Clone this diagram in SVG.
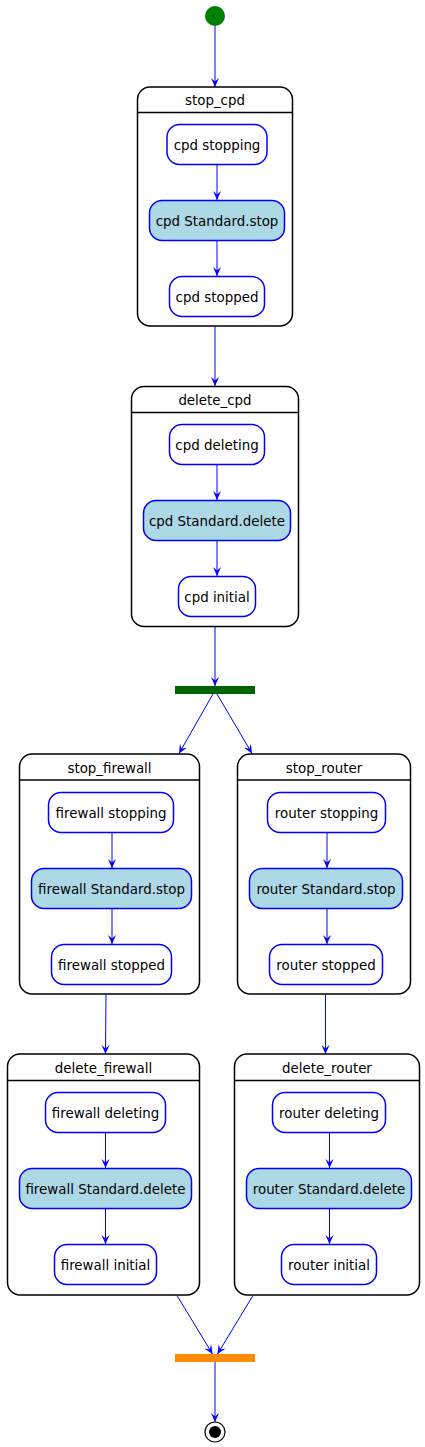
<svg xmlns="http://www.w3.org/2000/svg" width="425" height="1447" viewBox="0 0 425 1447">
<style>
.comp{fill:#fff;stroke:#000;stroke-width:1.5}
.hdr{stroke:#000;stroke-width:1.5}
.st{fill:#fff;stroke:#0000FF;stroke-width:1.5}
.act{fill:#ADD8E6;stroke:#0000FF;stroke-width:1.5}
text{font-family:"DejaVu Sans",sans-serif;font-size:13.4px;fill:#000;text-anchor:middle}
.c line{stroke:#0000FF;stroke-width:1;marker-end:url(#ah)}
</style>
<defs>
<marker id="ah" viewBox="0 0 10 10" refX="10" refY="5" markerWidth="10" markerHeight="9" markerUnits="userSpaceOnUse" orient="auto">
<path d="M10,5 L0,0.5 L4,5 L0,9.5 Z" fill="#0000FF"/>
</marker>
</defs>
<g id="start"><circle cx="215" cy="16" r="10" fill="#008000"/></g>
<g id="stop_cpd">
<rect class="comp" x="137.5" y="87" width="155" height="239" rx="12.5"/>
<line class="hdr" x1="137.5" y1="112.5" x2="292.5" y2="112.5"/>
<text x="215" y="105">stop_cpd</text>
</g>
<g id="cpd_stopping"><rect class="st" x="167" y="124.5" width="100" height="40" rx="12.5"/><text x="217" y="149.5">cpd stopping</text></g>
<g id="cpd_stop"><rect class="act" x="149.5" y="200.5" width="135" height="40" rx="12.5"/><text x="217" y="225.5">cpd Standard.stop</text></g>
<g id="cpd_stopped"><rect class="st" x="169.5" y="276.5" width="95" height="40" rx="12.5"/><text x="217" y="301.5">cpd stopped</text></g>
<g id="delete_cpd">
<rect class="comp" x="131.5" y="386.5" width="167" height="240" rx="12.5"/>
<line class="hdr" x1="131.5" y1="412.5" x2="298.5" y2="412.5"/>
<text x="215" y="405">delete_cpd</text>
</g>
<g id="cpd_deleting"><rect class="st" x="169.5" y="424.5" width="95" height="40" rx="12.5"/><text x="217" y="449.5">cpd deleting</text></g>
<g id="cpd_delete"><rect class="act" x="143.5" y="500.5" width="147" height="40" rx="12.5"/><text x="217" y="525.5">cpd Standard.delete</text></g>
<g id="cpd_initial"><rect class="st" x="178.5" y="576.5" width="77" height="40" rx="12.5"/><text x="217" y="601.5">cpd initial</text></g>
<g id="fork"><rect x="175" y="686" width="80" height="8" fill="#006400"/></g>
<g id="stop_firewall">
<rect class="comp" x="19.5" y="754" width="180" height="240" rx="12.5"/>
<line class="hdr" x1="19.5" y1="780" x2="199.5" y2="780"/>
<text x="109.5" y="773">stop_firewall</text>
</g>
<g id="fw_stopping"><rect class="st" x="48.5" y="792.5" width="125" height="40" rx="12.5"/><text x="111" y="817.5">firewall stopping</text></g>
<g id="fw_stop"><rect class="act" x="31.5" y="868.5" width="160" height="40" rx="12.5"/><text x="111.5" y="893.5">firewall Standard.stop</text></g>
<g id="fw_stopped"><rect class="st" x="51.5" y="944.5" width="120" height="40" rx="12.5"/><text x="111.5" y="969.5">firewall stopped</text></g>
<g id="stop_router">
<rect class="comp" x="237.5" y="754" width="173" height="240" rx="12.5"/>
<line class="hdr" x1="237.5" y1="780" x2="410.5" y2="780"/>
<text x="324" y="773">stop_router</text>
</g>
<g id="rt_stopping"><rect class="st" x="267.5" y="792.5" width="118" height="40" rx="12.5"/><text x="326.5" y="817.5">router stopping</text></g>
<g id="rt_stop"><rect class="act" x="249.5" y="868.5" width="153" height="40" rx="12.5"/><text x="326" y="893.5">router Standard.stop</text></g>
<g id="rt_stopped"><rect class="st" x="269.5" y="944.5" width="113" height="40" rx="12.5"/><text x="326" y="969.5">router stopped</text></g>
<g id="delete_firewall">
<rect class="comp" x="7.5" y="1054" width="192" height="241" rx="12.5"/>
<line class="hdr" x1="7.5" y1="1080.5" x2="199.5" y2="1080.5"/>
<text x="103.5" y="1073">delete_firewall</text>
</g>
<g id="fw_deleting"><rect class="st" x="45.5" y="1092.5" width="120" height="40" rx="12.5"/><text x="105.5" y="1117.5">firewall deleting</text></g>
<g id="fw_delete"><rect class="act" x="19.5" y="1168.5" width="172" height="40" rx="12.5"/><text x="105.5" y="1193.5">firewall Standard.delete</text></g>
<g id="fw_initial"><rect class="st" x="54.5" y="1244.5" width="102" height="40" rx="12.5"/><text x="105.5" y="1269.5">firewall initial</text></g>
<g id="delete_router">
<rect class="comp" x="234.5" y="1054" width="185" height="241" rx="12.5"/>
<line class="hdr" x1="234.5" y1="1080.5" x2="419.5" y2="1080.5"/>
<text x="327" y="1073">delete_router</text>
</g>
<g id="rt_deleting"><rect class="st" x="272.5" y="1092.5" width="113" height="40" rx="12.5"/><text x="329" y="1117.5">router deleting</text></g>
<g id="rt_delete"><rect class="act" x="246.5" y="1168.5" width="165" height="40" rx="12.5"/><text x="329" y="1193.5">router Standard.delete</text></g>
<g id="rt_initial"><rect class="st" x="281.5" y="1244.5" width="95" height="40" rx="12.5"/><text x="329" y="1269.5">router initial</text></g>
<g id="join"><rect x="175" y="1354" width="80" height="8" fill="#FF8C00"/></g>
<g id="end"><circle cx="215" cy="1432" r="10" fill="#fff" stroke="#000" stroke-width="1.2"/><circle cx="215" cy="1432" r="6" fill="#000"/></g>
<g class="c" id="connectors">
<line x1="215" y1="26" x2="215" y2="87"/>
<line x1="217" y1="165" x2="217" y2="200"/>
<line x1="217" y1="241" x2="217" y2="276"/>
<line x1="215" y1="326" x2="215" y2="386"/>
<line x1="217" y1="465" x2="217" y2="500"/>
<line x1="217" y1="541" x2="217" y2="576"/>
<line x1="215" y1="627" x2="215" y2="686"/>
<line x1="213" y1="694" x2="179" y2="753.5"/>
<line x1="217" y1="694" x2="252" y2="753.5"/>
<line x1="112" y1="833" x2="112" y2="868"/>
<line x1="112" y1="909" x2="112" y2="944"/>
<line x1="327" y1="833" x2="327" y2="868"/>
<line x1="327" y1="909" x2="327" y2="944"/>
<line x1="106" y1="994.5" x2="105.5" y2="1054"/>
<line x1="325.5" y1="994.5" x2="325.5" y2="1054"/>
<line x1="105.5" y1="1133" x2="105.5" y2="1168"/>
<line x1="105.5" y1="1209" x2="105.5" y2="1244"/>
<line x1="329.5" y1="1133" x2="329.5" y2="1168"/>
<line x1="329.5" y1="1209" x2="329.5" y2="1244"/>
<line x1="177" y1="1295.5" x2="212.5" y2="1354"/>
<line x1="253" y1="1295.5" x2="217.5" y2="1354"/>
<line x1="215" y1="1362" x2="215" y2="1422"/>
</g>
</svg>
